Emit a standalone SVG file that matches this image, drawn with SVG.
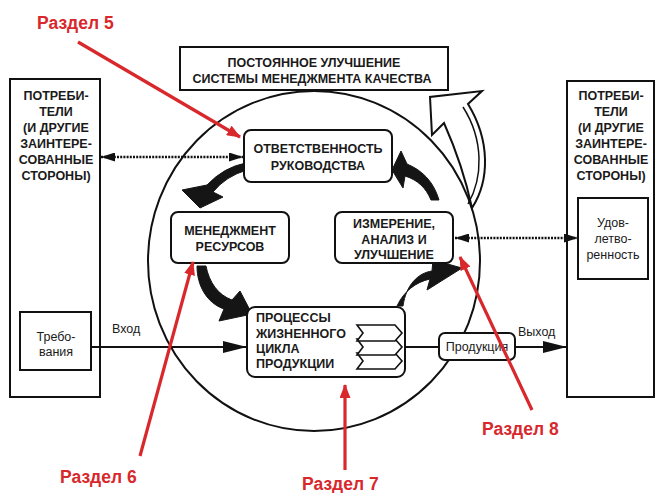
<svg xmlns="http://www.w3.org/2000/svg" width="656" height="493" viewBox="0 0 656 493">
<style>
.box{fill:#fff;stroke:#111;stroke-width:2}
.rb{fill:#fff;stroke:#111;stroke-width:2}
.t{font-family:"Liberation Sans",Arial,sans-serif;font-size:12.5px;font-weight:bold;fill:#1a1a1a;text-anchor:middle}
.tl{font-family:"Liberation Sans",Arial,sans-serif;font-size:12.5px;font-weight:bold;fill:#1a1a1a;text-anchor:start}
.s{font-family:"Liberation Sans",Arial,sans-serif;font-size:12.5px;fill:#1a1a1a;text-anchor:middle}
.sl{font-family:"Liberation Sans",Arial,sans-serif;font-size:12.5px;fill:#1a1a1a;text-anchor:start}
.red{font-family:"Liberation Sans",Arial,sans-serif;font-size:17.5px;font-weight:bold;fill:#d8282c}
.rl{stroke:#d8282c;stroke-width:3.2;fill:none}
.ln{stroke:#111;stroke-width:2;fill:none}
.dot{stroke:#111;stroke-width:2.5;stroke-dasharray:2 1.2;fill:none}
.thick{fill:#151515;stroke:#151515;stroke-width:1}
</style>
<defs>
<marker id="ah" markerUnits="userSpaceOnUse" markerWidth="24" markerHeight="12" refX="24" refY="6" orient="auto"><path d="M0,0 L24,6 L0,12 Z" fill="#111"/></marker>
<marker id="dh" markerUnits="userSpaceOnUse" markerWidth="14" markerHeight="9" refX="14" refY="4.5" orient="auto-start-reverse"><path d="M0,0 L14,4.5 L0,9 Z" fill="#111"/></marker>
<marker id="rh" markerUnits="userSpaceOnUse" markerWidth="14" markerHeight="11" refX="13" refY="5.5" orient="auto"><path d="M0,0 L14,5.5 L0,11 Z" fill="#d8282c"/></marker>
</defs>

<rect width="656" height="493" fill="#fff"/>

<!-- circle -->
<ellipse cx="314" cy="261" rx="166" ry="170" class="ln"/>

<!-- hollow improvement arrow -->
<g id="improve-arrow">
<path d="M472,208 C490,180 490,140 468,104 L482,91 L430,97 L432,135 L444,123 C456,150 466,180 472,208 Z" fill="#fff" stroke="#111" stroke-width="2"/>
<path d="M468,204 C483,178 484,140 463,107" fill="none" stroke="#111" stroke-width="1.5"/>
</g>

<g id="top-box">
<rect x="180" y="47" width="268" height="43" class="box"/>
<text class="t" x="314" y="67">ПОСТОЯННОЕ УЛУЧШЕНИЕ</text>
<text class="t" x="312" y="83">СИСТЕМЫ МЕНЕДЖМЕНТА КАЧЕСТВА</text>
</g>

<g id="left-party">
<rect x="10" y="79" width="90" height="318" class="box"/>
<text class="t" x="56" y="100">ПОТРЕБИ-</text>
<text class="t" x="56" y="116">ТЕЛИ</text>
<text class="t" x="56" y="132">(И ДРУГИЕ</text>
<text class="t" x="56" y="148">ЗАИНТЕРЕ-</text>
<text class="t" x="56" y="164">СОВАННЫЕ</text>
<text class="t" x="56" y="180">СТОРОНЫ)</text>
</g>

<g id="requirements">
<rect x="20" y="312" width="71" height="58" class="box"/>
<text class="s" x="56" y="341">Требо-</text>
<text class="s" x="56" y="356">вания</text>
</g>

<g id="right-party">
<rect x="567" y="81" width="87" height="316" class="box"/>
<text class="t" x="611" y="100">ПОТРЕБИ-</text>
<text class="t" x="611" y="116">ТЕЛИ</text>
<text class="t" x="611" y="132">(И ДРУГИЕ</text>
<text class="t" x="611" y="148">ЗАИНТЕРЕ-</text>
<text class="t" x="611" y="164">СОВАННЫЕ</text>
<text class="t" x="611" y="180">СТОРОНЫ)</text>
</g>

<g id="satisfaction">
<rect x="578" y="198" width="70" height="81" class="box"/>
<text class="s" x="613" y="227">Удов-</text>
<text class="s" x="613" y="243">летво-</text>
<text class="s" x="613" y="259">ренность</text>
</g>

<g id="connectors">
<line x1="101" y1="157" x2="243" y2="157" class="dot" marker-start="url(#dh)" marker-end="url(#dh)"/>
<line x1="455" y1="238" x2="578" y2="238" class="dot" marker-start="url(#dh)" marker-end="url(#dh)"/>
<line x1="91" y1="347" x2="247" y2="347" class="ln" marker-end="url(#ah)"/>
<line x1="405" y1="347" x2="439" y2="347" class="ln"/>
<line x1="515" y1="347" x2="567" y2="347" class="ln" marker-end="url(#ah)"/>
<text class="sl" x="112" y="333">Вход</text>
<text class="sl" x="518" y="336">Выход</text>
<!-- cycle arrows -->
<path class="thick" d="M246,163 Q224,167 207,185 L182,190 L200,208 L223,197 L213,192 Q226,176 247,170 Z"/>
<path class="thick" d="M197,266 C197,286 207,303 224,309 L219,321 L252,314 L240,291 L232,300 C218,295 209,282 206,266 Z"/>
<path class="thick" d="M397,306 C404,291 416,282 430,279 L427,290 L462,268 L433,260 L432,271 C418,273 406,285 403,306 Z"/>
<path class="thick" d="M439,200 C433,180 421,170 407,164 L401,151 L392,170 L403,188 L405,176 C418,180 426,188 431,200 Z"/>
</g>

<g id="management-responsibility">
<rect x="244" y="130" width="148" height="52" rx="7" class="rb"/>
<text class="t" x="318" y="153">ОТВЕТСТВЕННОСТЬ</text>
<text class="t" x="318" y="170">РУКОВОДСТВА</text>
</g>

<g id="resource-management">
<rect x="171" y="212" width="118" height="51" rx="7" class="rb"/>
<text class="t" x="230" y="235">МЕНЕДЖМЕНТ</text>
<text class="t" x="230" y="251">РЕСУРСОВ</text>
</g>

<g id="measurement">
<rect x="335" y="212" width="118" height="51" rx="7" class="rb"/>
<text class="t" x="394" y="228">ИЗМЕРЕНИЕ,</text>
<text class="t" x="394" y="244">АНАЛИЗ И</text>
<text class="t" x="394" y="259">УЛУЧШЕНИЕ</text>
</g>

<g id="product-realization">
<rect x="247" y="307" width="158" height="70" rx="8" class="rb"/>
<text class="tl" x="256" y="322">ПРОЦЕССЫ</text>
<text class="tl" x="256" y="338">ЖИЗНЕННОГО</text>
<text class="tl" x="256" y="353">ЦИКЛА</text>
<text class="tl" x="256" y="368">ПРОДУКЦИИ</text>
<g fill="#fff" stroke="#111" stroke-width="1.6">
<path d="M357,353 L395,353 L402,361 L395,369 L357,369 L363,361 Z"/>
<path d="M357,339 L395,339 L402,347 L395,355 L357,355 L363,347 Z"/>
<path d="M357,325 L395,325 L402,333 L395,341 L357,341 L363,333 Z"/>
</g>
</g>

<g id="product">
<rect x="439" y="333" width="76" height="27" rx="6" class="rb"/>
<text class="s" x="477" y="351">Продукция</text>
</g>

<g id="annotations">
<line x1="78" y1="42" x2="240" y2="137" class="rl" marker-end="url(#rh)"/>
<line x1="140" y1="456" x2="193" y2="262" class="rl" marker-end="url(#rh)"/>
<line x1="345" y1="470" x2="345" y2="385" class="rl" marker-end="url(#rh)"/>
<line x1="532" y1="410" x2="460" y2="257" class="rl" marker-end="url(#rh)"/>
<text class="red" x="37" y="29">Раздел 5</text>
<text class="red" x="60" y="483">Раздел 6</text>
<text class="red" x="302" y="490">Раздел 7</text>
<text class="red" x="482" y="435">Раздел 8</text>
</g>
</svg>
